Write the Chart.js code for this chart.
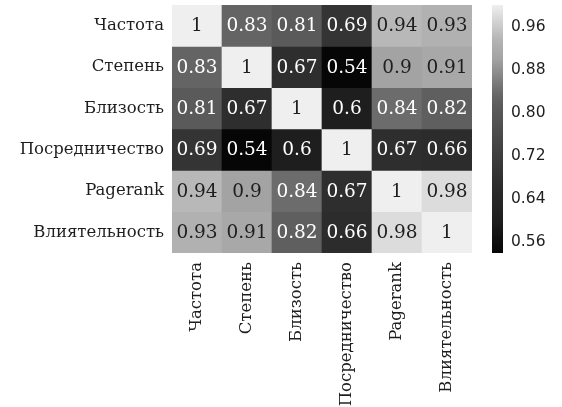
<!DOCTYPE html>
<html>
<head>
<meta charset="utf-8">
<script src="https://cdn.jsdelivr.net/npm/chart.js@4"></script>
<style>
html,body{margin:0;padding:0;background:#fff;}
#wrap{width:562px;height:407px;position:relative;}
</style>
</head>
<body>
<div id="wrap"><canvas id="c" width="562" height="407"></canvas></div>
<script>
const labels = ['Частота', 'Степень', 'Близость', 'Посредничество', 'Pagerank', 'Влиятельность'];
const rowChastota = [1, 0.83, 0.81, 0.69, 0.94, 0.93];
const rowStepen = [0.83, 1, 0.67, 0.54, 0.9, 0.91];
const rowBlizost = [0.81, 0.67, 1, 0.6, 0.84, 0.82];
const rowPosred = [0.69, 0.54, 0.6, 1, 0.67, 0.66];
const rowPagerank = [0.94, 0.9, 0.84, 0.67, 1, 0.98];
const rowVliyanie = [0.93, 0.91, 0.82, 0.66, 0.98, 1];
const rows = [rowChastota, rowStepen, rowBlizost, rowPosred, rowPagerank, rowVliyanie];
const colorbarTicks = [0.56, 0.64, 0.72, 0.80, 0.88, 0.96];
const vMin = 0.54, vMax = 1;

// grayscale colour map (value -> gray level), styling only
const cmapValues = [0.54, 0.60, 0.67, 0.69, 0.81, 0.83, 0.84, 0.90, 0.93, 0.94, 0.98, 1.00];
const cmapGrays  = [6,    30,   46,   52,   90,   100,  108,  163,  177,  184,  220,  239];

function grayOf(v) {
  let g = cmapGrays[0];
  if (v >= cmapValues[cmapValues.length - 1]) g = cmapGrays[cmapGrays.length - 1];
  else {
    for (let i = 0; i < cmapValues.length - 1; i++) {
      if (v >= cmapValues[i] && v <= cmapValues[i + 1]) {
        const f = (v - cmapValues[i]) / (cmapValues[i + 1] - cmapValues[i]);
        g = cmapGrays[i] + f * (cmapGrays[i + 1] - cmapGrays[i]);
        break;
      }
    }
  }
  g = Math.round(g);
  return 'rgb(' + g + ',' + g + ',' + g + ')';
}

const datasets = rows.map((vals, r) => ({
  label: labels[r],
  data: vals.map(() => [r, r + 1]),
  backgroundColor: vals.map(grayOf),
  borderWidth: 0,
  barPercentage: 1,
  categoryPercentage: 1,
  grouped: false,
  yAxisID: 'y'
}));

const cellText = {
  id: 'cellText',
  afterDatasetsDraw(chart) {
    const ctx = chart.ctx;
    ctx.save();
    ctx.font = '18.5px "DejaVu Serif"';
    ctx.textAlign = 'center';
    ctx.textBaseline = 'middle';
    chart.data.datasets.forEach((ds, r) => {
      const meta = chart.getDatasetMeta(r);
      meta.data.forEach((el, c) => {
        const v = rows[r][c];
        const p = el.getProps(['x', 'y', 'base'], true);
        ctx.fillStyle = v >= 0.87 ? '#1e1e1e' : '#ffffff';
        ctx.fillText(String(v), p.x, (p.y + p.base) / 2 + 1);
      });
    });
    ctx.restore();
  }
};

const colorbar = {
  id: 'colorbar',
  afterDraw(chart) {
    const s = chart.scales.cb;
    const ctx = chart.ctx;
    const x0 = chart.chartArea.right + 20, w = 11;
    const yTop = s.getPixelForValue(vMax), yBot = s.getPixelForValue(vMin);
    const grad = ctx.createLinearGradient(0, yBot, 0, yTop);
    for (let i = 0; i <= 46; i++) {
      const v = vMin + (vMax - vMin) * i / 46;
      grad.addColorStop(i / 46, grayOf(v));
    }
    ctx.save();
    ctx.fillStyle = grad;
    ctx.fillRect(x0, yTop, w, yBot - yTop);
    ctx.restore();
  }
};

function noPad(s) { s.paddingTop = 0; s.paddingBottom = 0; s.paddingLeft = 0; s.paddingRight = 0; }

new Chart(document.getElementById('c'), {
  type: 'bar',
  data: { labels: labels, datasets: datasets },
  plugins: [cellText, colorbar],
  options: {
    responsive: false,
    animation: false,
    devicePixelRatio: 1,
    layout: { padding: { top: 5, left: 0, right: 0, bottom: 0 } },
    plugins: { legend: { display: false }, tooltip: { enabled: false } },
    scales: {
      x: {
        type: 'category',
        grid: { display: false, drawTicks: false },
        border: { display: false },
        ticks: {
          minRotation: 90, maxRotation: 90, padding: 9,
          color: '#1e1e1e',
          font: { family: 'DejaVu Serif', size: 16.5 }
        },
        afterFit(s) { s.height = 154; noPad(s); }
      },
      y: {
        type: 'linear', display: false, reverse: true, min: 0, max: 6
      },
      rowsAxis: {
        type: 'category', labels: labels, position: 'left', offset: true,
        grid: { display: false, drawTicks: false },
        border: { display: false },
        ticks: { padding: 8, color: '#1e1e1e', font: { family: 'DejaVu Serif', size: 16.5 } },
        afterFit(s) { s.width = 172; noPad(s); }
      },
      cb: {
        type: 'linear', position: 'right', min: vMin, max: vMax,
        grid: { display: false, drawTicks: false },
        border: { display: false },
        afterBuildTicks(s) { s.ticks = colorbarTicks.map(v => ({ value: v })); },
        ticks: {
          padding: 39, color: '#1e1e1e',
          font: { family: 'DejaVu Sans', size: 15.5 },
          callback: v => Number(v).toFixed(2)
        },
        afterFit(s) { s.width = 90; noPad(s); }
      }
    }
  }
});
</script>
</body>
</html>
